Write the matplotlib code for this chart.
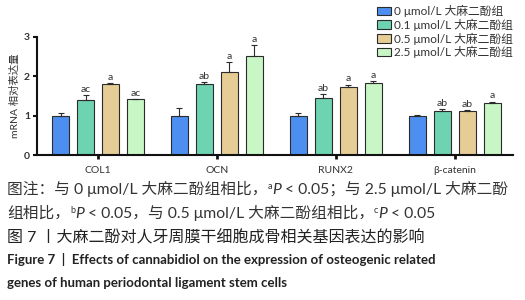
import numpy as np
import matplotlib
matplotlib.use("Agg")
import matplotlib.pyplot as plt

plt.rcParams['font.family'] = ['Lato', 'Noto Sans CJK SC', 'DejaVu Sans']

genes = ["COL1", "OCN", "RUNX2", "β-catenin"]
groups = ["0 μmol/L 大麻二酚组", "0.1 μmol/L 大麻二酚组",
          "0.5 μmol/L 大麻二酚组", "2.5 μmol/L 大麻二酚组"]
colors = ["#4d8ff0", "#6ed3b0", "#e6cc95", "#c8f7c5"]

# rows = concentration groups, cols = genes
means = [
    [1.00, 1.00, 0.99, 1.00],
    [1.41, 1.80, 1.46, 1.13],
    [1.80, 2.12, 1.74, 1.13],
    [1.42, 2.52, 1.84, 1.31],
]
errs = [
    [0.06, 0.19, 0.07, 0.01],
    [0.12, 0.06, 0.08, 0.04],
    [0.02, 0.25, 0.05, 0.01],
    [0.01, 0.28, 0.04, 0.05],
]
marks = [
    ["", "", "", ""],
    ["ac", "ab", "ab", "ab"],
    ["a", "a", "a", "ab"],
    ["ac", "a", "a", "a"],
]

fig = plt.figure(figsize=(5.25, 3.0), dpi=100)
ax = fig.add_axes([37 / 525, 1 - 155 / 300, (513 - 37) / 525, (155 - 37) / 300])

x = np.arange(len(genes))
step = 0.21
width = 0.145
for i in range(4):
    pos = x + (i - 1.5) * step
    ax.bar(pos, means[i], width, color=colors[i], edgecolor="#2b2b2b",
           linewidth=0.8, label=groups[i], zorder=2)
    ax.errorbar(pos, means[i], yerr=[np.zeros(4), errs[i]], fmt="none",
                ecolor="#2b2b2b", elinewidth=0.8, capsize=2, capthick=0.8, zorder=3)
    for j in range(4):
        if marks[i][j]:
            ax.text(pos[j], means[i][j] + errs[i][j] + 0.03, marks[i][j],
                    ha="center", va="bottom", fontsize=7.5, color="#333333")

ax.set_xlim(-0.513, 3.49)
ax.set_ylim(0, 3)
ax.set_yticks([0, 1, 2, 3])
ax.set_yticklabels(["0", "1", "2", "3"], fontsize=7.5, fontweight="bold", color="#333333")
ax.set_xticks(x)
ax.set_xticklabels(genes, fontsize=7.5, color="#333333")
ax.tick_params(axis="x", length=3, width=2, color="#111111", pad=5)
ax.tick_params(axis="y", length=3, width=1.5, color="#111111", pad=2)
for s in ["top", "right"]:
    ax.spines[s].set_visible(False)
for s in ["left", "bottom"]:
    ax.spines[s].set_linewidth(1.5)
    ax.spines[s].set_color("#111111")
ax.set_ylabel("mRNA 相对表达量", fontsize=7.5, color="#333333", labelpad=3)

leg = fig.legend(loc="upper left", bbox_to_anchor=(377 / 525, 1 - 5 / 300),
                 frameon=False, fontsize=8.5, handlelength=1.2, handleheight=0.75,
                 handletextpad=0.25, labelspacing=0.12, borderaxespad=0,
                 borderpad=0)
for t in leg.get_texts():
    t.set_color("#333333")

# caption, drawn run by run so superscripts and italics can mix with CJK
fig.canvas.draw()
renderer = fig.canvas.get_renderer()


def draw_runs(y, runs, x0=7, size=11.3):
    xpix = x0
    for text, style in runs:
        kw = dict(fontsize=size, color="#333333", va="baseline", ha="left")
        yy = y
        if style == "sup":
            kw["fontsize"] = 6.5
            yy = y - 5
        elif style == "it":
            kw["fontstyle"] = "italic"
        elif style == "bold":
            kw["fontweight"] = "bold"
            kw["color"] = "#222222"
        elif style == "title":
            kw["color"] = "#222222"
        t = fig.text(xpix / 525, 1 - yy / 300, text, **kw)
        xpix += t.get_window_extent(renderer).width


draw_runs(194, [("图注：与 0 μmol/L 大麻二酚组相比，", ""), ("a", "sup"), ("P", "it"),
                (" < 0.05；与 2.5 μmol/L 大麻二酚", "")])
draw_runs(218, [("组相比，", ""), ("b", "sup"), ("P", "it"),
                (" < 0.05，与 0.5 μmol/L 大麻二酚组相比，", ""), ("c", "sup"), ("P", "it"),
                (" < 0.05", "")])
draw_runs(242, [("图 7 丨大麻二酚对人牙周膜干细胞成骨相关基因表达的影响", "title")], size=11.5)
draw_runs(264, [("Figure 7  |  Effects of cannabidiol on the expression of osteogenic related", "bold")],
          size=9.5)
draw_runs(287, [("genes of human periodontal ligament stem cells", "bold")], size=9.5)

fig.savefig("out.png", dpi=100)
